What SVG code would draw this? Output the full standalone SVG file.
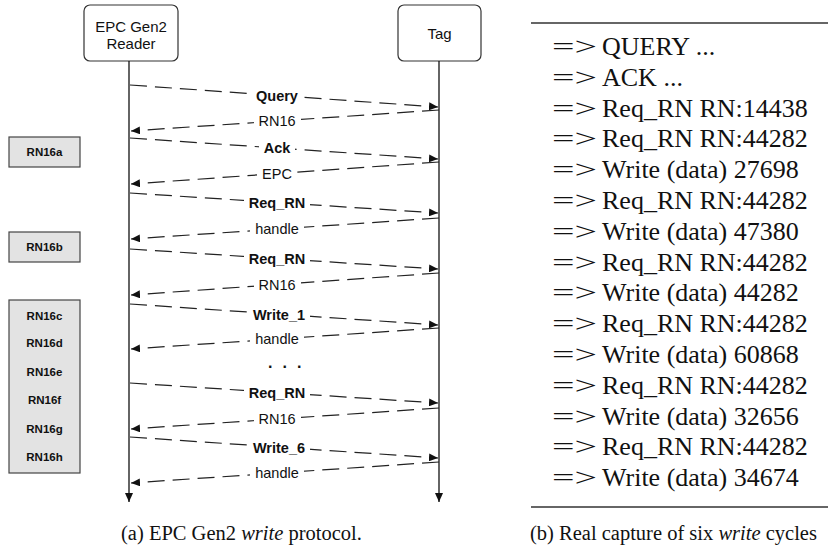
<svg xmlns="http://www.w3.org/2000/svg" width="828" height="549" viewBox="0 0 828 549">
<style>
.box{fill:#fff;stroke:#333;stroke-width:1.2}
.rn{fill:#e3e3e3;stroke:#444;stroke-width:1.2}
.life{stroke:#111;stroke-width:1.3;fill:none}
.msg{stroke:#222;stroke-width:1.2;fill:none;stroke-dasharray:17 8}
.lb{fill:#fff;stroke:none}
.sans{font-family:"Liberation Sans",Arial,sans-serif;fill:#111}
.hd{font-size:15px;text-anchor:middle}
.ml{font-size:14.5px;text-anchor:middle}
.b{font-weight:bold}
.rl{font-size:11.5px;font-weight:bold;text-anchor:middle}
.serif{font-family:"Liberation Serif","Times New Roman",serif;fill:#111}
.cap{font-size:20.5px}
.log{font-size:26px}
.rule{stroke:#333;stroke-width:1.6}
</style>
<defs>
<marker id="ah" markerUnits="userSpaceOnUse" markerWidth="10" markerHeight="8" refX="9" refY="4" orient="auto">
<path d="M0,0 L9,4 L0,8 Z" fill="#111"/>
</marker>
</defs>

<g id="reader">
<rect class="box" x="84" y="5" width="94" height="56" rx="6"/>
<text class="sans hd" x="131" y="32">EPC Gen2</text>
<text class="sans hd" x="131" y="49">Reader</text>
</g>
<g id="tag">
<rect class="box" x="398" y="5" width="83" height="56" rx="6"/>
<text class="sans hd" x="439.5" y="39">Tag</text>
</g>

<g id="rn16a">
<rect class="rn" x="9" y="137" width="71" height="30"/>
<text class="sans rl" x="44.5" y="156">RN16a</text>
</g>
<g id="rn16b">
<rect class="rn" x="9" y="232" width="71" height="30"/>
<text class="sans rl" x="44.5" y="251">RN16b</text>
</g>
<g id="rn16c-h">
<rect class="rn" x="9" y="300" width="71" height="173"/>
<text class="sans rl" x="44.5" y="320">RN16c</text>
<text class="sans rl" x="44.5" y="347">RN16d</text>
<text class="sans rl" x="44.5" y="376">RN16e</text>
<text class="sans rl" x="44.5" y="404">RN16f</text>
<text class="sans rl" x="44.5" y="433">RN16g</text>
<text class="sans rl" x="44.5" y="461">RN16h</text>
</g>

<g id="connectors">
<line class="life" x1="129" y1="61" x2="129" y2="502" marker-end="url(#ah)"/>
<line class="life" x1="439" y1="61" x2="439" y2="502" marker-end="url(#ah)"/>

<line class="msg" x1="130" y1="85" x2="438" y2="107" marker-end="url(#ah)"/>
<line class="msg" x1="439" y1="110" x2="131" y2="131" marker-end="url(#ah)"/>
<line class="msg" x1="130" y1="138" x2="438" y2="159" marker-end="url(#ah)"/>
<line class="msg" x1="439" y1="162" x2="131" y2="184" marker-end="url(#ah)"/>
<line class="msg" x1="130" y1="193" x2="438" y2="213" marker-end="url(#ah)"/>
<line class="msg" x1="439" y1="218" x2="131" y2="239" marker-end="url(#ah)"/>
<line class="msg" x1="130" y1="249" x2="438" y2="269" marker-end="url(#ah)"/>
<line class="msg" x1="439" y1="273" x2="131" y2="295" marker-end="url(#ah)"/>
<line class="msg" x1="130" y1="304" x2="438" y2="325" marker-end="url(#ah)"/>
<line class="msg" x1="439" y1="328" x2="131" y2="349" marker-end="url(#ah)"/>
<line class="msg" x1="130" y1="383" x2="438" y2="403" marker-end="url(#ah)"/>
<line class="msg" x1="439" y1="408" x2="131" y2="429" marker-end="url(#ah)"/>
<line class="msg" x1="130" y1="437" x2="438" y2="458" marker-end="url(#ah)"/>
<line class="msg" x1="439" y1="462" x2="131" y2="483" marker-end="url(#ah)"/>

<rect class="lb" x="251" y="87" width="52" height="18"/>
<text class="sans ml b" x="277" y="101">Query</text>
<rect class="lb" x="254" y="112" width="47" height="18"/>
<text class="sans ml" x="277" y="126">RN16</text>
<rect class="lb" x="259" y="139" width="36" height="18"/>
<text class="sans ml b" x="277" y="153">Ack</text>
<rect class="lb" x="257" y="165" width="40" height="18"/>
<text class="sans ml" x="277" y="179">EPC</text>
<rect class="lb" x="244" y="194" width="66" height="18"/>
<text class="sans ml b" x="277" y="208">Req_RN</text>
<rect class="lb" x="250" y="220" width="54" height="18"/>
<text class="sans ml" x="277" y="234">handle</text>
<rect class="lb" x="244" y="250" width="66" height="18"/>
<text class="sans ml b" x="277" y="264">Req_RN</text>
<rect class="lb" x="254" y="276" width="47" height="18"/>
<text class="sans ml" x="277" y="290">RN16</text>
<rect class="lb" x="248" y="306" width="62" height="18"/>
<text class="sans ml b" x="279" y="320">Write_1</text>
<rect class="lb" x="250" y="330" width="54" height="18"/>
<text class="sans ml" x="277" y="344">handle</text>
<text class="sans b" x="268" y="368" font-size="16" letter-spacing="10">...</text>
<rect class="lb" x="244" y="384" width="66" height="18"/>
<text class="sans ml b" x="277" y="398">Req_RN</text>
<rect class="lb" x="254" y="410" width="47" height="18"/>
<text class="sans ml" x="277" y="424">RN16</text>
<rect class="lb" x="248" y="439" width="62" height="18"/>
<text class="sans ml b" x="279" y="453">Write_6</text>
<rect class="lb" x="250" y="464" width="54" height="18"/>
<text class="sans ml" x="277" y="478">handle</text>
</g>

<g id="capture">
<line class="rule" x1="531" y1="23" x2="828" y2="23"/>
<line class="rule" x1="531" y1="507" x2="828" y2="507"/>
<g class="serif log">
<text x="552" y="55" textLength="45" lengthAdjust="spacingAndGlyphs">=&gt;</text><text x="602" y="55">QUERY ...</text>
<text x="552" y="85.8" textLength="45" lengthAdjust="spacingAndGlyphs">=&gt;</text><text x="602" y="85.8">ACK ...</text>
<text x="552" y="116.6" textLength="45" lengthAdjust="spacingAndGlyphs">=&gt;</text><text x="602" y="116.6">Req_RN RN:14438</text>
<text x="552" y="147.4" textLength="45" lengthAdjust="spacingAndGlyphs">=&gt;</text><text x="602" y="147.4">Req_RN RN:44282</text>
<text x="552" y="178.2" textLength="45" lengthAdjust="spacingAndGlyphs">=&gt;</text><text x="602" y="178.2">Write (data) 27698</text>
<text x="552" y="209" textLength="45" lengthAdjust="spacingAndGlyphs">=&gt;</text><text x="602" y="209">Req_RN RN:44282</text>
<text x="552" y="239.8" textLength="45" lengthAdjust="spacingAndGlyphs">=&gt;</text><text x="602" y="239.8">Write (data) 47380</text>
<text x="552" y="270.6" textLength="45" lengthAdjust="spacingAndGlyphs">=&gt;</text><text x="602" y="270.6">Req_RN RN:44282</text>
<text x="552" y="301.4" textLength="45" lengthAdjust="spacingAndGlyphs">=&gt;</text><text x="602" y="301.4">Write (data) 44282</text>
<text x="552" y="332.2" textLength="45" lengthAdjust="spacingAndGlyphs">=&gt;</text><text x="602" y="332.2">Req_RN RN:44282</text>
<text x="552" y="363" textLength="45" lengthAdjust="spacingAndGlyphs">=&gt;</text><text x="602" y="363">Write (data) 60868</text>
<text x="552" y="393.8" textLength="45" lengthAdjust="spacingAndGlyphs">=&gt;</text><text x="602" y="393.8">Req_RN RN:44282</text>
<text x="552" y="424.6" textLength="45" lengthAdjust="spacingAndGlyphs">=&gt;</text><text x="602" y="424.6">Write (data) 32656</text>
<text x="552" y="455.4" textLength="45" lengthAdjust="spacingAndGlyphs">=&gt;</text><text x="602" y="455.4">Req_RN RN:44282</text>
<text x="552" y="486.2" textLength="45" lengthAdjust="spacingAndGlyphs">=&gt;</text><text x="602" y="486.2">Write (data) 34674</text>
</g>
</g>

<g id="captions" class="serif cap">
<text x="121" y="540">(a) EPC Gen2 <tspan font-style="italic">write</tspan> protocol.</text>
<text x="530" y="540">(b) Real capture of six <tspan font-style="italic">write</tspan> cycles</text>
</g>
</svg>
